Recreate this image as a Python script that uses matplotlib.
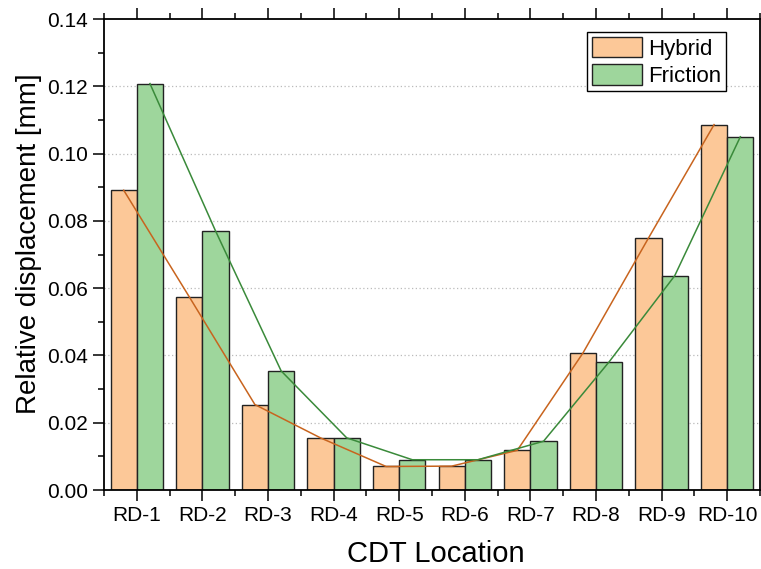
import matplotlib
matplotlib.use('Agg')
import matplotlib.pyplot as plt
from matplotlib.ticker import MultipleLocator
import numpy as np

# data
locations = ['RD-1', 'RD-2', 'RD-3', 'RD-4', 'RD-5', 'RD-6', 'RD-7', 'RD-8', 'RD-9', 'RD-10']
hybrid = [0.0891, 0.0574, 0.0254, 0.0155, 0.0070, 0.0071, 0.0118, 0.0407, 0.0749, 0.1086]
friction = [0.1208, 0.0770, 0.0354, 0.0155, 0.0090, 0.0090, 0.0145, 0.0381, 0.0637, 0.1050]

c_hyb = '#FCC898'
c_fri = '#9ED69C'
c_hyb_line = '#C8641E'
c_fri_line = '#3A8A3A'

plt.rcParams['font.family'] = ['Liberation Sans', 'DejaVu Sans']

fig = plt.figure(figsize=(7.61, 5.69), dpi=100)
ax = fig.add_axes([0.1367, 0.1388, 0.8620, 0.8278])

x = np.arange(1, len(locations) + 1)
w = 0.4
ax.bar(x - w / 2, hybrid, w, color=c_hyb, edgecolor='#222222', linewidth=1.0,
       label='Hybrid', zorder=2)
ax.bar(x + w / 2, friction, w, color=c_fri, edgecolor='#222222', linewidth=1.0,
       label='Friction', zorder=2)
ax.plot(x - w / 2, hybrid, color=c_hyb_line, linewidth=1.1, zorder=3)
ax.plot(x + w / 2, friction, color=c_fri_line, linewidth=1.1, zorder=3)

ax.set_xlim(0.5, 10.5)
ax.set_ylim(0, 0.14)
ax.set_xticks(x)
ax.set_xticklabels(locations)
ax.set_xticks(np.arange(0.5, 11, 1), minor=True)
ax.yaxis.set_major_locator(MultipleLocator(0.02))
ax.yaxis.set_minor_locator(MultipleLocator(0.01))
ax.yaxis.set_major_formatter(matplotlib.ticker.FormatStrFormatter('%.2f'))

for yv in np.arange(0.02, 0.13, 0.02):
    ax.axhline(yv, color='#BBBBBB', linestyle=(0, (1, 2)), linewidth=0.9, zorder=0)

ax.tick_params(axis='both', which='major', direction='out', length=8, width=1.1,
               labelsize=15, top=True, right=False)
ax.tick_params(axis='both', which='minor', direction='out', length=4, width=1.1,
               top=True, right=False)
for s in ax.spines.values():
    s.set_linewidth(1.3)

ax.set_xlabel('CDT Location', fontsize=21, labelpad=10.5, x=0.506)
ax.set_ylabel('Relative displacement [mm]', fontsize=20, labelpad=3.5, y=0.524)

leg = ax.legend(loc='upper right', bbox_to_anchor=(0.948, 0.972), borderaxespad=0,
                fontsize=16, fancybox=False, framealpha=1, edgecolor='black',
                handlelength=2.25, handleheight=1.05, labelspacing=0.2,
                borderpad=0.2, handletextpad=0.3)
leg.get_frame().set_linewidth(1.0)

fig.savefig('out.png', dpi=100)
